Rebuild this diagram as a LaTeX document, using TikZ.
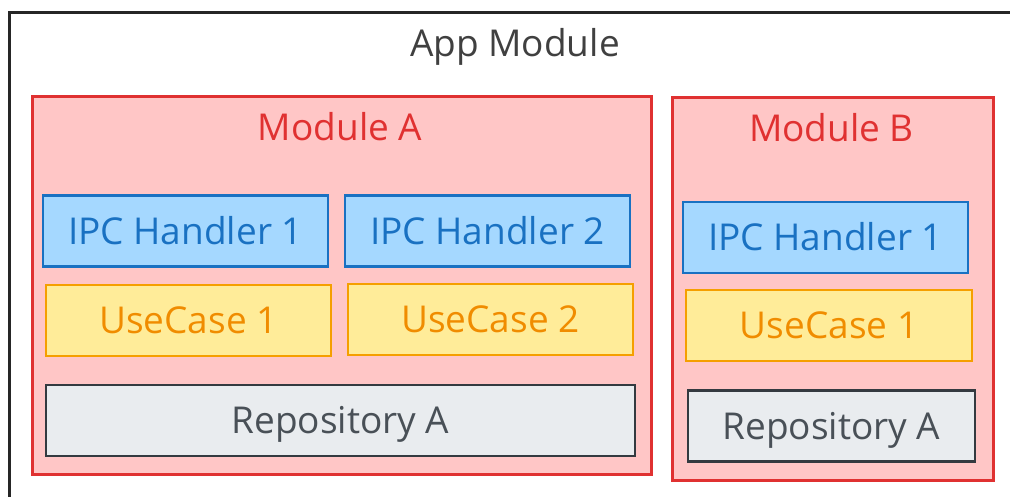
\documentclass[tikz,border=0pt]{standalone}
\usepackage{fontspec}
\setmainfont{Open Sans}
\definecolor{modfill}{HTML}{FFC6C6}
\definecolor{modline}{HTML}{E03131}
\definecolor{ipcfill}{HTML}{A5D8FF}
\definecolor{ipcline}{HTML}{1971C2}
\definecolor{ucfill}{HTML}{FFEC99}
\definecolor{ucline}{HTML}{F59F00}
\definecolor{uctext}{HTML}{F08C00}
\definecolor{repofill}{HTML}{E9ECEF}
\definecolor{repoline}{HTML}{343A40}
\definecolor{repotext}{HTML}{495057}
\begin{document}
\begin{tikzpicture}[x=1pt,y=-1pt,
    every node/.style = {font=\fontsize{37}{42}\selectfont, inner sep=0pt, text height=26.4pt, text depth=0pt},
    module/.style = {draw=modline, fill=modfill, line width=2.5pt, anchor=north west},
    title/.style = {text=modline},
    ipc/.style = {draw=ipcline, fill=ipcfill, text=ipcline, line width=2.5pt, minimum width=285pt, minimum height=71pt},
    usecase/.style = {draw=ucline, fill=ucfill, text=uctext, line width=2.5pt, minimum width=285pt, minimum height=71pt},
    repo/.style = {draw=repoline, fill=repofill, text=repotext, line width=2.5pt, minimum height=71pt}]
    \useasboundingbox (0,0) rectangle (1010,496);
    \begin{scope}
    \clip (0,0) rectangle (1010,496);
    \draw[line width=3pt, black!85] (9,12) rectangle (1030,520);
    \end{scope}
    \node[text=black!75] (app) at (515,43) {App Module};
    % module A
    \node[module, minimum width=619pt, minimum height=378pt] (modA) at (31,95) {};
    \node[title] (titleA) at (340,127) {Module A};
    \node[ipc] (ipcA1) at (185.5,231) {IPC Handler 1};
    \node[ipc] (ipcA2) at (487.5,231) {IPC Handler 2};
    \node[usecase] (ucA1) at (188.5,320.5) {UseCase 1};
    \node[usecase] (ucA2) at (490.5,319.5) {UseCase 2};
    \node[repo, minimum width=589pt] (repoA) at (340.5,420.5) {Repository A};
    % module B
    \node[module, minimum width=321pt, minimum height=383pt] (modB) at (671,96) {};
    \node[title] (titleB) at (831.5,128) {Module B};
    \node[ipc] (ipcB1) at (825.5,237.5) {IPC Handler 1};
    \node[usecase, minimum width=286pt] (ucB1) at (829,325.5) {UseCase 1};
    \node[repo, minimum width=287pt] (repoB) at (831.5,426) {Repository A};
\end{tikzpicture}
\end{document}
